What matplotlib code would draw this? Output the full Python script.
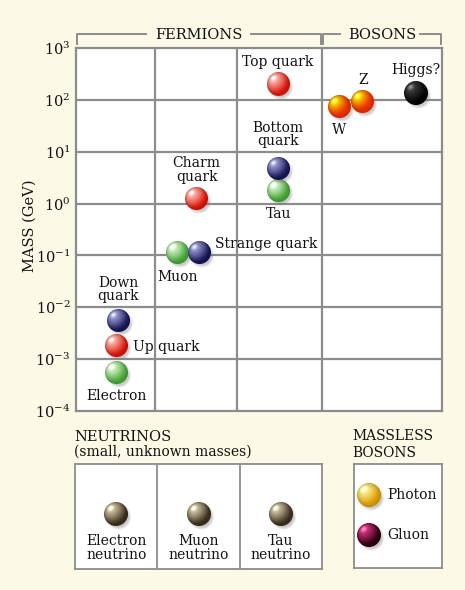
import numpy as np
import matplotlib
matplotlib.use("Agg")
import matplotlib.pyplot as plt
from matplotlib.offsetbox import OffsetImage, AnnotationBbox
from matplotlib.lines import Line2D

plt.rcParams["font.family"] = ["DejaVu Serif"]
plt.rcParams["mathtext.fontset"] = "dejavuserif"

# ---------------- data ----------------
labels = ["Electron", "Up quark", "Down\nquark", "Muon", "Strange quark",
          "Charm\nquark", "Tau", "Bottom\nquark", "Top quark", "W", "Z", "Higgs?"]
masses_gev = [0.00056, 0.0018, 0.0056, 0.115, 0.115, 1.27, 1.8, 4.8, 200, 76, 95, 135]
column_pos = [0.50, 0.50, 0.52, 1.25, 1.51, 1.48, 2.49, 2.48, 2.48, 3.23, 3.52, 4.17]
kinds = ["lepton", "up", "down", "lepton", "down", "up", "lepton", "down", "up",
         "wz", "wz", "higgs"]
ytick_vals = [1e-4, 1e-3, 1e-2, 1e-1, 1e0, 1e1, 1e2, 1e3]
ytick_labels = [r"$10^{-4}$", r"$10^{-3}$", r"$10^{-2}$", r"$10^{-1}$",
                r"$10^{0}$", r"$10^{1}$", r"$10^{2}$", r"$10^{3}$"]
neutrino_labels = ["Electron\nneutrino", "Muon\nneutrino", "Tau\nneutrino"]
massless_labels = ["Photon", "Gluon"]

# ---------------- style ----------------
BG = "#fcfae7"
GRID = "#8c8c8c"
TXT = "#111111"
col_bounds = [0, 0.97, 1.98, 3.02, 4.49]
# (highlight colour, rim colour, gradient exponent)
palette = {
    "up": ("#ffb8b0", "#e01408", 1.6),
    "down": ("#9a9ad0", "#16165a", 1.6),
    "lepton": ("#d8f5cc", "#48aa38", 1.6),
    "wz": ("#ffe000", "#f03000", 2.4),
    "higgs": ("#3a3a3a", "#000000", 1.6),
    "neutrino": ("#d0c4a4", "#3e3020", 1.6),
    "photon": ("#fff09a", "#e0a000", 1.6),
    "gluon": ("#d0307a", "#2a0010", 1.6),
}
# label offsets in pixels (dx, dy, ha)
label_off = [(0, -24, "center"), (16, -1, "left"), (0, 31, "center"), (0, -25, "center"),
             (16, 8, "left"), (0, 28, "center"), (0, -24, "center"), (0, 34, "center"),
             (0, 22, "center"), (0, -24, "center"), (0, 21, "center"), (0, 23, "center")]


def hex2rgb(h):
    h = h.lstrip("#")
    return np.array([int(h[i:i + 2], 16) / 255 for i in (0, 2, 4)])


def make_sphere(kind, diam=23, ss=4):
    c_hex, e_hex, p = palette[kind]
    cen, edg = hex2rgb(c_hex), hex2rgb(e_hex)
    pad = 6
    size = diam + 2 * pad
    n = size * ss
    R = diam * ss / 2
    yy, xx = np.mgrid[0:n, 0:n] + 0.5
    c0 = n / 2
    u = (xx - c0) / R
    v = (c0 - yy) / R
    r2 = u ** 2 + v ** 2
    inside = (r2 <= 1).astype(float)
    z = np.sqrt(np.clip(1 - r2, 0, 1))
    L = np.array([-0.45, 0.5, 0.74])
    L = L / np.linalg.norm(L)
    d = np.clip(u * L[0] + v * L[1] + z * L[2], 0, 1)
    t = d ** p
    rgb = edg[None, None, :] + (cen - edg)[None, None, :] * t[..., None]
    rgb = rgb * (0.8 + 0.2 * z[..., None])
    spec = (d ** 30) * 0.4
    rgb = np.clip(rgb + spec[..., None], 0, 1)
    # drop shadow
    sx, sy = c0 + 2.5 * ss, c0 + 3.0 * ss
    dist = np.sqrt((xx - sx) ** 2 + (yy - sy) ** 2)
    sa = 0.38 * np.clip((R + 1.0 * ss - dist) / (3.0 * ss), 0, 1)
    srgb = np.array([0.45, 0.45, 0.45])
    ba = inside
    out_a = ba + sa * (1 - ba)
    prem = rgb * ba[..., None] + srgb[None, None, :] * (sa * (1 - ba))[..., None]
    prem = prem.reshape(size, ss, size, ss, 3).mean(axis=(1, 3))
    out_a = out_a.reshape(size, ss, size, ss).mean(axis=(1, 3))
    col = np.where(out_a[..., None] > 0, prem / np.maximum(out_a[..., None], 1e-6), 0)
    return np.dstack([np.clip(col, 0, 1), out_a])


def place_ball(ax, x, y, kind, diam=23):
    im = OffsetImage(make_sphere(kind, diam), zoom=1, dpi_cor=False)
    ab = AnnotationBbox(im, (x, y), frameon=False, pad=0, box_alignment=(0.5, 0.5))
    ax.add_artist(ab)


W, H = 465, 590
fig = plt.figure(figsize=(4.65, 5.9), dpi=100, facecolor=BG)


def fx(x):
    return x / W


def fy(y):
    return 1 - y / H


# ---------------- main chart ----------------
ax = fig.add_axes([fx(76), fy(411), (442 - 76) / W, (411 - 48) / H])
ax.set_facecolor("white")
ax.set_yscale("log")
ax.set_ylim(1e-4, 1e3)
ax.set_xlim(col_bounds[0], col_bounds[-1])
ax.set_xticks([])
ax.set_yticks(ytick_vals)
ax.set_yticklabels(ytick_labels)
ax.yaxis.set_minor_locator(matplotlib.ticker.NullLocator())
ax.tick_params(axis="y", length=0, pad=4, labelsize=10.5, labelcolor=TXT)
for s in ax.spines.values():
    s.set_color(GRID)
    s.set_linewidth(1.6)
for yv in ytick_vals[1:-1]:
    ax.axhline(yv, color=GRID, lw=1.6, zorder=1)
for xv in col_bounds[1:-1]:
    ax.axvline(xv, color=GRID, lw=1.6, zorder=1)

for lab, m, x, k, (dx, dy, ha) in zip(labels, masses_gev, column_pos, kinds, label_off):
    place_ball(ax, x, m, k, diam=24 if k == "higgs" else 23)
    ax.annotate(lab, (x, m), xytext=(dx, dy), textcoords="offset pixels",
                ha=ha, va="center", fontsize=10, color=TXT, linespacing=0.95,
                zorder=5)

fig.text(fx(30), fy(226), "MASS (GeV)", rotation=90, ha="center", va="center",
         fontsize=10.5, color=TXT)


# brackets
def seg(xs, ys):
    fig.add_artist(Line2D([fx(a) for a in xs], [fy(b) for b in ys],
                          color=GRID, lw=1.4))


seg([77, 77, 146], [44, 34, 34])
seg([251, 321, 321], [34, 34, 44])
seg([323, 323, 340], [44, 34, 34])
seg([420, 441, 441], [34, 34, 44])
fig.text(fx(199), fy(35), "FERMIONS", ha="center", va="center", fontsize=10.5, color=TXT)
fig.text(fx(382), fy(35), "BOSONS", ha="center", va="center", fontsize=10.5, color=TXT)

# ---------------- neutrinos ----------------
fig.text(fx(74), fy(437), "NEUTRINOS", ha="left", va="center", fontsize=10.5, color=TXT)
fig.text(fx(74), fy(452), "(small, unknown masses)", ha="left", va="center",
         fontsize=10, color=TXT)
nax = fig.add_axes([fx(75), fy(569), (322 - 75) / W, (569 - 464) / H])
nax.set_facecolor("white")
nax.set_xlim(0, len(neutrino_labels))
nax.set_ylim(0, 1)
nax.set_xticks([])
nax.set_yticks([])
for s in nax.spines.values():
    s.set_color(GRID)
    s.set_linewidth(1.3)
for i in range(1, len(neutrino_labels)):
    nax.axvline(i, color=GRID, lw=1.3)
for i, lab in enumerate(neutrino_labels):
    place_ball(nax, i + 0.5, 0.524, "neutrino", diam=24)
    nax.annotate(lab, (i + 0.5, 0.524), xytext=(0, -34), textcoords="offset pixels",
                 ha="center", va="center", fontsize=10, color=TXT, linespacing=0.95)

# ---------------- massless bosons ----------------
fig.text(fx(352), fy(436), "MASSLESS", ha="left", va="center", fontsize=10, color=TXT)
fig.text(fx(352), fy(453), "BOSONS", ha="left", va="center", fontsize=10, color=TXT)
max_ = fig.add_axes([fx(354), fy(568), (442 - 354) / W, (568 - 464) / H])
max_.set_facecolor("white")
max_.set_xlim(0, 1)
max_.set_ylim(0, 1)
max_.set_xticks([])
max_.set_yticks([])
for s in max_.spines.values():
    s.set_color(GRID)
    s.set_linewidth(1.3)
for lab, yv, k in zip(massless_labels, [0.70, 0.317], ["photon", "gluon"]):
    place_ball(max_, 0.17, yv, k, diam=24)
    max_.annotate(lab, (0.17, yv), xytext=(18, 0), textcoords="offset pixels",
                  ha="left", va="center", fontsize=10, color=TXT)

fig.savefig("out.png", dpi=100, facecolor=BG)
